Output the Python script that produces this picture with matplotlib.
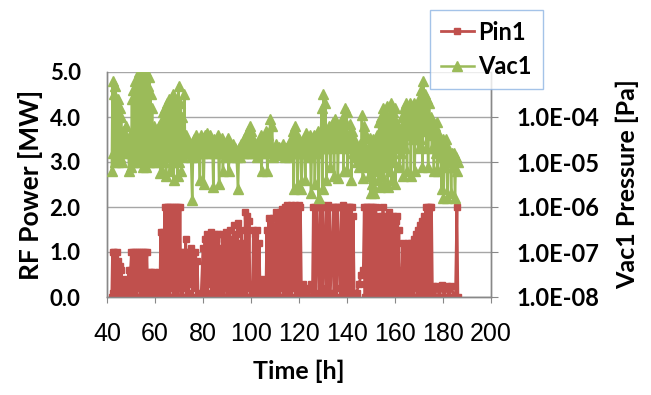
import math
import matplotlib
matplotlib.use("Agg")
import matplotlib.pyplot as plt
from matplotlib.font_manager import FontProperties
from matplotlib.ticker import FuncFormatter, NullLocator

# Pin1 RF power [MW]
pin1_time = [42.0, 42.3, 42.6, 42.9, 43.2, 43.5, 43.8, 44.1, 44.4, 44.7, 45.0, 45.3, 45.6, 46.0, 46.4,
             47.0, 47.5, 48.0, 48.5,
             49.0, 49.4, 49.8, 50.2, 50.6, 51.0, 51.4, 51.8, 52.2, 52.6, 53.0, 53.4, 53.8, 54.2, 54.6,
             55.0, 55.4, 55.8, 56.2, 56.6, 57.0,
             57.5, 58.0, 58.5, 59.0, 59.5, 60.0, 60.5, 61.0, 61.5, 62.0,
             62.4, 62.8, 63.2, 63.6,
             64.0, 64.4, 64.8, 65.2, 65.6, 66.0, 66.4, 66.8, 67.2, 67.6, 68.0, 68.4, 68.8, 69.2, 69.6,
             70.0, 70.4, 70.8,
             71.2, 71.6, 72.0, 72.4, 72.8, 73.2, 73.6, 74.0,
             74.4, 74.8, 75.2, 75.6, 76.0, 76.4, 76.8, 77.2, 77.6, 78.0, 78.6, 79.2,
             80.0, 80.4, 80.8, 81.2, 81.6, 82.0, 82.4, 82.8, 83.2, 83.6, 84.0, 84.4, 84.8, 85.2, 85.6,
             86.0, 86.4, 86.8, 87.2, 87.6, 88.0, 88.4, 88.8, 89.2, 89.6, 90.0, 90.4, 90.8, 91.2, 91.6,
             92.0, 92.4, 92.8, 93.2, 93.6, 94.0, 94.4, 94.8, 95.2, 95.6,
             96.0, 96.4, 96.8, 97.2, 97.6, 98.0, 98.4, 98.8, 99.2, 99.6, 100.0, 100.6,
             101.0, 101.4, 101.8, 102.2, 102.6, 103.0, 103.4, 103.8, 104.4, 105.0, 105.6, 106.2,
             106.6, 107.0, 107.4, 107.8, 108.2, 108.6, 109.0, 109.4, 109.8,
             110.2, 110.6, 111.0, 111.4, 111.8, 112.2, 112.6, 113.0, 113.4, 113.8,
             114.2, 114.6, 115.0, 115.4, 115.8, 116.2, 116.6, 117.0, 117.4, 117.8, 118.2, 118.6,
             119.0, 119.4, 119.8, 120.2, 120.6, 121.0,
             121.6, 122.4, 123.2, 124.0, 124.8, 125.6,
             126.0, 126.3, 126.6, 127.0, 127.3, 128.5, 128.8, 129.1, 129.4, 129.7, 130.0, 131.2,
             131.5, 131.8, 132.1, 132.4, 132.7, 133.0, 134.3, 134.6, 134.9, 135.2, 135.5, 135.8,
             136.1, 137.4, 137.7, 138.0, 138.3, 138.6, 138.9, 139.2, 139.5, 139.8, 140.1, 140.4,
             140.7, 141.0, 141.3, 141.6, 141.9, 142.2, 142.6, 143.0,
             144.0, 145.0, 146.0, 146.8,
             147.2, 147.5, 147.8, 148.1, 148.4, 148.7, 149.0, 149.3, 149.6, 149.9, 150.2, 150.5,
             150.8, 151.1, 151.4, 151.7, 152.0, 152.3, 152.6, 152.9, 153.2, 153.5, 153.8, 154.1,
             154.4, 154.7, 155.0, 155.3, 155.6, 155.9, 156.2, 156.5, 156.8, 157.1, 157.4, 157.7,
             158.0, 158.3, 158.6, 158.9, 159.2, 159.5, 159.8, 160.1, 160.4, 160.7, 161.0, 161.3,
             161.6, 162.0,
             162.4, 162.8, 163.2, 163.6, 164.0, 164.4, 164.8, 165.2, 165.6, 166.0, 166.4, 166.8,
             167.2, 167.6, 168.0, 168.4, 168.8, 169.2, 169.6, 170.0, 170.4, 170.8, 171.2, 171.6,
             172.0, 172.4, 172.8, 173.2, 173.6, 174.0, 174.4, 174.8, 175.2, 175.6,
             176.0, 176.5, 177.5, 178.5, 179.5, 180.5, 181.5, 182.5, 183.5, 184.5, 185.2, 185.8, 186.2]
pin1_mw = [0.0, 1.0, 0.1, 1.0, 0.0, 0.9, 0.2, 1.0, 0.3, 0.8, 0.0, 0.7, 0.1, 0.6, 0.0,
           0.4, 0.1, 0.3, 0.0,
           0.6, 0.0, 0.6, 1.0, 0.0, 1.0, 0.1, 1.0, 0.0, 1.0, 0.2, 1.0, 0.0, 1.0, 0.1,
           1.0, 0.0, 1.0, 0.2, 1.0, 0.0,
           0.55, 0.0, 0.55, 0.1, 0.55, 0.0, 0.5, 0.1, 0.55, 0.0,
           1.45, 0.0, 1.45, 0.1,
           2.0, 0.0, 2.0, 0.1, 2.0, 0.0, 2.0, 0.2, 2.0, 0.0, 2.0, 0.1, 2.0, 0.0, 2.0,
           0.2, 2.0, 0.0,
           1.0, 0.0, 1.0, 0.2, 1.3, 0.0, 1.0, 0.1,
           1.0, 0.3, 1.1, 0.0, 0.9, 0.2, 1.0, 0.0, 0.8, 0.0, 0.1, 0.0,
           1.1, 0.0, 1.3, 0.1, 1.4, 0.0, 1.3, 0.3, 1.45, 0.0, 1.2, 0.1, 1.4, 0.0, 1.3,
           0.2, 1.4, 0.0, 1.1, 0.1, 1.4, 0.0, 1.3, 0.2, 1.45, 0.0, 1.2, 0.1, 1.5, 0.0,
           1.3, 0.2, 1.6, 0.0, 1.4, 0.1, 1.65, 0.0, 1.2, 0.2,
           1.5, 0.0, 1.2, 0.1, 1.9, 0.0, 1.8, 0.2, 1.7, 0.0, 0.3, 0.0,
           1.5, 0.0, 1.4, 0.1, 1.5, 0.0, 1.2, 0.1, 0.4, 0.0, 0.3, 0.0,
           1.5, 0.0, 1.75, 0.1, 1.6, 0.0, 1.75, 0.2, 1.5,
           0.0, 1.9, 0.1, 1.8, 0.0, 1.9, 0.2, 1.95, 0.0, 1.9,
           2.0, 0.1, 2.05, 0.0, 2.0, 0.2, 2.05, 0.0, 1.9, 0.2, 2.05, 0.0,
           2.0, 0.1, 2.05, 0.0, 2.0, 0.1,
           0.3, 0.0, 0.2, 0.0, 0.3, 0.0,
           2.0, 0.0, 2.0, 0.1, 2.0, 0.0, 2.0, 0.2, 2.05, 0.0, 2.0, 0.1,
           2.0, 0.0, 2.05, 0.1, 2.0, 0.0, 2.0, 0.1, 2.0, 0.0, 2.0, 0.2,
           2.0, 0.0, 2.0, 0.1, 2.05, 0.0, 2.0, 0.1, 1.9, 0.0, 2.0, 0.1,
           2.0, 0.0, 2.0, 0.1, 2.0, 0.0, 1.8, 0.0,
           0.1, 0.3, 0.5, 0.6,
           2.0, 0.0, 2.0, 0.3, 2.0, 0.0, 1.8, 0.2, 2.0, 0.0, 2.0, 0.4,
           2.0, 0.0, 1.7, 0.1, 2.0, 0.0, 1.6, 0.2, 1.8, 0.0, 1.5, 0.1,
           1.8, 0.0, 2.0, 0.3, 1.7, 0.0, 1.8, 0.1, 1.6, 0.0, 1.9, 0.2,
           1.8, 0.0, 1.5, 0.1, 1.8, 0.0, 1.6, 0.2, 1.7, 0.0, 1.8, 0.1,
           1.5, 0.0,
           0.6, 0.0, 1.2, 0.7, 0.0, 1.1, 0.8, 0.0, 1.2, 0.9, 0.1, 1.2,
           1.1, 0.0, 1.3, 0.2, 1.4, 0.0, 1.5, 0.1, 1.6, 0.0, 1.7, 0.2,
           1.8, 0.0, 2.0, 0.1, 2.0, 0.0, 2.0, 0.2, 2.0, 0.0,
           0.25, 0.0, 0.25, 0.0, 0.27, 0.0, 0.25, 0.0, 0.25, 0.0, 0.0, 2.0, 0.0]

# Vac1 pressure [Pa]
vac1_time = [42.0, 42.3, 42.6, 42.9, 43.2, 43.5, 43.8, 44.1, 44.4, 44.7, 45.0, 45.3, 45.6, 45.9, 46.2,
             46.5, 46.8, 47.2, 47.6, 48.0, 48.4, 48.8, 49.2, 49.6, 50.0, 50.4, 50.7, 51.0, 51.3, 51.6,
             51.9, 52.2, 52.5, 52.8, 53.1, 53.4, 53.7, 54.0, 54.3, 54.6, 54.9, 55.2, 55.5, 55.8, 56.1,
             56.4, 56.7, 57.0, 57.3, 57.6, 57.9, 58.2, 58.5, 58.8, 59.1, 59.4, 59.8, 60.2, 60.6, 61.0,
             61.4, 61.8, 62.2, 62.6, 63.0, 63.4, 63.8, 64.2, 64.6, 65.0, 65.4, 65.8, 66.2, 66.6, 67.0,
             67.4, 67.8, 68.2, 68.6, 69.0, 69.4, 69.8, 70.2, 70.6, 71.0, 71.4, 71.8, 72.2, 72.6, 73.0,
             73.4, 73.8, 74.2, 74.6, 75.0, 75.5, 75.9, 76.3, 76.7, 77.1, 77.5, 77.9, 78.3, 78.7, 79.1,
             79.5, 79.9, 80.3, 80.7, 81.1, 81.5, 81.9, 82.3, 82.7, 83.1, 83.5, 83.9, 84.3, 84.7, 85.1,
             85.5, 85.9, 86.3, 86.7, 87.1, 87.5, 87.9, 88.3, 88.7, 89.1, 89.5, 89.9, 90.3, 90.7, 91.1,
             91.5, 91.9, 92.3, 92.7, 93.1, 93.5, 94.0, 94.6, 95.0, 95.5, 96.0, 96.5, 97.0, 97.4, 97.8,
             98.2, 98.6, 99.0, 99.4, 99.8, 100.2, 100.6, 101.0, 101.5, 102.0, 102.5, 103.0, 103.5, 104.0, 104.4,
             104.8, 105.2, 105.6, 106.0, 106.4, 106.8, 107.2, 107.6, 108.0, 108.4, 108.8, 109.2, 109.6, 110.0, 110.5,
             111.0, 111.5, 112.0, 112.5, 113.0, 113.5, 114.0, 114.5, 115.0, 115.5, 116.0, 116.5, 117.0, 117.4, 117.8,
             118.2, 118.6, 119.0, 119.4, 119.8, 120.2, 120.6, 121.0, 121.4, 121.8, 122.2, 122.6, 123.0, 123.4, 123.8,
             124.2, 124.6, 125.0, 125.4, 125.8, 126.2, 126.6, 127.0, 127.4, 127.8, 128.2, 128.6, 129.0, 129.4, 129.8,
             130.2, 130.6, 131.0, 131.4, 131.8, 132.2, 132.6, 133.0, 133.4, 133.8, 134.2, 134.6, 135.0, 135.4, 135.8,
             136.2, 136.6, 137.0, 137.4, 137.8, 138.2, 138.6, 139.0, 139.4, 139.8, 140.2, 140.6, 141.0, 141.4, 141.8,
             142.2, 142.6, 143.0, 143.4, 143.8, 144.2, 144.6, 145.0, 145.4, 145.8, 146.2, 146.6, 147.0, 147.4, 147.8,
             148.2, 148.6, 149.0, 149.4, 149.8, 150.2, 150.6, 151.0, 151.4, 151.8, 152.2, 152.6, 153.0, 153.4, 153.8,
             154.2, 154.6, 155.0, 155.4, 155.8, 156.2, 156.6, 157.0, 157.4, 157.8, 158.2, 158.6, 159.0, 159.4, 159.8,
             160.2, 160.6, 161.0, 161.4, 161.8, 162.2, 162.6, 163.0, 163.4, 163.8, 164.2, 164.6, 165.0, 165.4, 165.8,
             166.2, 166.6, 167.0, 167.4, 167.8, 168.2, 168.6, 169.0, 169.4, 169.8, 170.2, 170.6, 171.0, 171.4, 171.8,
             172.2, 172.6, 173.0, 173.4, 173.8, 174.2, 174.6, 175.0, 175.4, 175.8, 176.2, 176.6, 177.0, 177.4, 177.8,
             178.2, 178.6, 179.0, 179.4, 179.8, 180.2, 180.6, 181.0, 181.4, 181.8, 182.2, 182.6, 183.0, 183.4, 183.8,
             184.2, 184.6, 185.0, 185.4, 185.8, 186.2]
vac1_pa = [6.3e-6, 6.3e-4, 1.6e-5, 3.2e-4, 1.0e-5, 5.0e-4, 2.5e-5, 2.0e-4, 1.0e-5, 2.5e-4, 2.0e-5, 1.6e-4, 1.3e-5, 1.0e-4, 1.0e-5,
           5.0e-5, 1.6e-5, 4.0e-5, 2.0e-5, 6.3e-5, 1.6e-5, 3.2e-5, 6.3e-6, 4.0e-5, 7.9e-6, 2.5e-4, 1.0e-5, 4.0e-4, 1.6e-5, 6.3e-4,
           1.0e-5, 5.0e-4, 2.0e-5, 7.9e-4, 1.0e-5, 1.0e-3, 2.5e-5, 4.0e-4, 1.3e-5, 6.3e-4, 7.9e-6, 1.0e-3, 1.6e-5, 7.9e-4, 7.9e-6,
           1.0e-3, 2.0e-5, 5.0e-4, 1.0e-5, 7.9e-4, 1.6e-5, 3.2e-4, 1.3e-5, 1.6e-4, 1.0e-5, 6.3e-5, 1.6e-5, 5.0e-5, 1.0e-5, 4.0e-5,
           1.3e-5, 6.3e-5, 5.6e-6, 7.9e-5, 6.3e-6, 1.3e-4, 1.0e-5, 1.6e-4, 5.0e-6, 2.0e-4, 1.3e-5, 2.5e-4, 6.3e-6, 1.6e-4, 1.0e-5,
           3.2e-4, 4.0e-6, 2.0e-4, 1.3e-5, 2.5e-4, 5.0e-6, 5.0e-4, 1.0e-5, 2.0e-4, 6.3e-6, 1.0e-4, 1.3e-5, 3.2e-4, 1.6e-5, 4.0e-5,
           2.0e-5, 2.5e-5, 1.6e-5, 2.5e-5, 1.3e-5, 1.4e-6, 2.0e-5, 3.2e-5, 1.3e-5, 4.0e-5, 1.6e-5, 3.2e-5, 1.6e-5, 4.0e-6, 4.0e-5,
           1.6e-5, 3.5e-5, 3.2e-6, 4.0e-5, 2.0e-5, 4.5e-5, 1.6e-5, 3.2e-5, 2.0e-5, 4.0e-5, 1.6e-5, 2.5e-5, 2.8e-6, 3.2e-5, 1.6e-5,
           2.5e-5, 2.0e-5, 4.0e-5, 3.2e-6, 2.5e-5, 1.6e-5, 3.5e-5, 6.3e-6, 2.0e-5, 1.3e-5, 2.5e-5, 1.6e-5, 3.5e-5, 6.3e-6, 2.5e-5,
           1.6e-5, 2.0e-5, 1.3e-5, 2.5e-5, 1.6e-5, 2.0e-5, 1.3e-5, 2.5e-6, 2.0e-5, 1.3e-5, 2.5e-5, 1.6e-5, 3.2e-5, 1.6e-5, 4.0e-5,
           2.0e-5, 5.0e-5, 1.6e-5, 6.3e-5, 2.0e-5, 5.0e-5, 1.6e-5, 3.2e-5, 1.6e-5, 2.0e-5, 1.3e-5, 2.5e-5, 1.6e-5, 4.0e-5, 6.3e-6,
           2.5e-5, 1.6e-5, 3.2e-5, 2.0e-5, 5.0e-5, 6.3e-6, 4.0e-5, 1.6e-5, 8.9e-5, 2.0e-5, 6.3e-5, 1.3e-5, 2.0e-5, 1.6e-5, 2.5e-5,
           1.6e-5, 2.2e-5, 1.4e-5, 2.0e-5, 1.6e-5, 2.5e-5, 1.3e-5, 2.0e-5, 1.6e-5, 2.2e-5, 1.3e-5, 3.2e-5, 1.6e-5, 5.0e-5, 2.5e-6,
           6.3e-5, 1.6e-5, 4.0e-5, 3.2e-6, 3.2e-5, 1.6e-5, 2.5e-5, 2.5e-6, 2.0e-5, 1.6e-5, 3.2e-5, 4.0e-6, 4.5e-5, 1.6e-5, 2.5e-5,
           1.3e-5, 4.0e-5, 2.0e-6, 3.2e-5, 1.6e-5, 4.0e-5, 3.2e-6, 2.5e-5, 1.6e-5, 5.0e-5, 1.6e-6, 4.0e-5, 2.0e-5, 1.6e-4, 2.5e-6,
           3.2e-4, 2.0e-5, 2.0e-4, 4.0e-6, 5.0e-5, 2.0e-5, 6.3e-5, 7.9e-6, 4.0e-5, 2.0e-5, 7.9e-5, 5.0e-6, 8.9e-5, 2.5e-5, 6.3e-5,
           4.5e-6, 5.0e-5, 2.5e-5, 6.3e-5, 2.0e-5, 1.0e-4, 6.3e-6, 1.6e-4, 2.5e-5, 1.3e-4, 6.3e-6, 4.0e-5, 2.0e-5, 7.1e-5, 4.0e-6,
           5.0e-5, 1.6e-5, 3.2e-5, 1.3e-5, 2.0e-5, 1.0e-5, 1.6e-5, 7.9e-6, 2.5e-5, 1.0e-5, 1.1e-4, 4.5e-6, 6.3e-5, 1.0e-5, 4.0e-5,
           7.9e-6, 2.0e-5, 5.0e-6, 3.5e-5, 2.0e-6, 2.5e-5, 3.2e-6, 3.2e-5, 2.0e-6, 2.0e-5, 6.3e-6, 4.0e-5, 4.0e-6, 7.9e-5, 2.8e-6,
           1.0e-4, 5.0e-6, 1.6e-4, 3.2e-6, 1.3e-4, 7.9e-6, 1.8e-4, 2.8e-6, 1.0e-4, 6.3e-6, 2.0e-4, 4.0e-6, 1.3e-4, 1.0e-5, 1.6e-4,
           3.2e-6, 7.9e-5, 2.0e-5, 6.3e-5, 7.9e-6, 5.0e-5, 1.6e-5, 1.0e-4, 5.0e-6, 1.6e-4, 2.0e-5, 2.0e-4, 6.3e-6, 1.3e-4, 4.0e-5,
           2.0e-4, 5.0e-6, 1.6e-4, 3.2e-5, 2.0e-4, 6.3e-6, 1.3e-4, 4.0e-5, 1.6e-4, 2.0e-5, 2.5e-4, 3.2e-5, 4.0e-4, 7.9e-6, 6.3e-4,
           5.0e-5, 3.2e-4, 2.0e-5, 2.5e-4, 7.9e-6, 2.0e-4, 4.0e-5, 1.0e-4, 2.0e-5, 7.9e-5, 6.3e-6, 6.3e-5, 1.6e-5, 7.9e-5, 6.3e-6,
           4.0e-5, 1.3e-5, 2.0e-5, 2.5e-6, 3.2e-5, 1.6e-6, 2.5e-5, 7.9e-6, 3.2e-5, 1.6e-6, 2.0e-5, 1.0e-5, 1.3e-5, 2.0e-6, 1.6e-5,
           7.9e-6, 1.6e-5, 1.6e-6, 1.3e-5, 6.3e-6, 1.0e-5]

x_ticks = [40, 60, 80, 100, 120, 140, 160, 180, 200]
power_ticks = [0.0, 1.0, 2.0, 3.0, 4.0, 5.0]
pressure_ticks = [1e-8, 1e-7, 1e-6, 1e-5, 1e-4]

red = "#C0504D"
green = "#9BBB59"
grid_gray = "#A6A6A6"
bold_font = ["Lato", "DejaVu Sans"]
narrow_font = ["Liberation Sans Narrow", "Liberation Sans", "DejaVu Sans"]

fig = plt.figure(figsize=(6.51, 3.95), dpi=100)
ax = fig.add_axes([107 / 651, 1 - 297 / 395, 384 / 651, 225 / 395])
ax2 = ax.twinx()

ax.plot(pin1_time, pin1_mw, color=red, lw=2.0, marker="s", ms=4, label="Pin1", zorder=3)
ax2.plot(vac1_time, vac1_pa, color=green, lw=1.8, marker="^", ms=7, label="Vac1", zorder=3)

ax.set_xlim(40, 200)
ax.set_ylim(0, 5)
ax.set_xticks(x_ticks)
ax.set_yticks(power_ticks)
ax.set_yticklabels([f"{v:.1f}" for v in power_ticks], fontsize=16, fontweight="bold", family=bold_font)
ax.set_xticklabels([str(v) for v in x_ticks], fontsize=18, family=narrow_font)
ax.yaxis.grid(True, color=grid_gray, lw=1)
ax.set_axisbelow(True)
ax.tick_params(axis="y", length=0, pad=19)
ax.tick_params(axis="x", length=4, color="#888888", pad=14)

ax2.set_yscale("log")
ax2.set_ylim(1e-8, 1e-3)
ax2.set_yticks(pressure_ticks)
ax2.yaxis.set_minor_locator(NullLocator())


def sci(v, pos):
    e = int(round(math.log10(v)))
    return f"1.0E{e:+03d}"


ax2.yaxis.set_major_formatter(FuncFormatter(sci))
for t in ax2.get_yticklabels():
    t.set_fontsize(17)
    t.set_fontweight("bold")
    t.set_family(bold_font)
ax2.tick_params(axis="y", length=5, color="#888888", pad=13)

for a in (ax, ax2):
    a.spines["top"].set_visible(False)
    for s in ("left", "right", "bottom"):
        a.spines[s].set_color("#888888")
        a.spines[s].set_linewidth(1)

ax.set_xlabel("Time [h]", fontsize=18, fontweight="bold", family=bold_font, labelpad=10)
ax.set_ylabel("RF Power [MW]", fontsize=19, fontweight="bold", family=bold_font, labelpad=5)
ax2.set_ylabel("Vac1 Pressure [Pa]", fontsize=18, fontweight="bold", family=bold_font, labelpad=12)

h1, l1 = ax.get_legend_handles_labels()
h2, l2 = ax2.get_legend_handles_labels()
leg_font = FontProperties(family=bold_font, weight="bold", size=17)
leg = fig.legend(h1 + h2, l1 + l2, loc="upper left", bbox_to_anchor=(430 / 651, 1 - 10 / 395),
                 prop=leg_font, frameon=True, fancybox=False,
                 handlelength=1.4, handletextpad=0.2, borderpad=0.45, borderaxespad=0,
                 labelspacing=0.5)
leg.get_frame().set_edgecolor("#8EB4E3")
leg.get_frame().set_linewidth(1)
leg.set_zorder(10)

fig.savefig("out.png", dpi=100)
